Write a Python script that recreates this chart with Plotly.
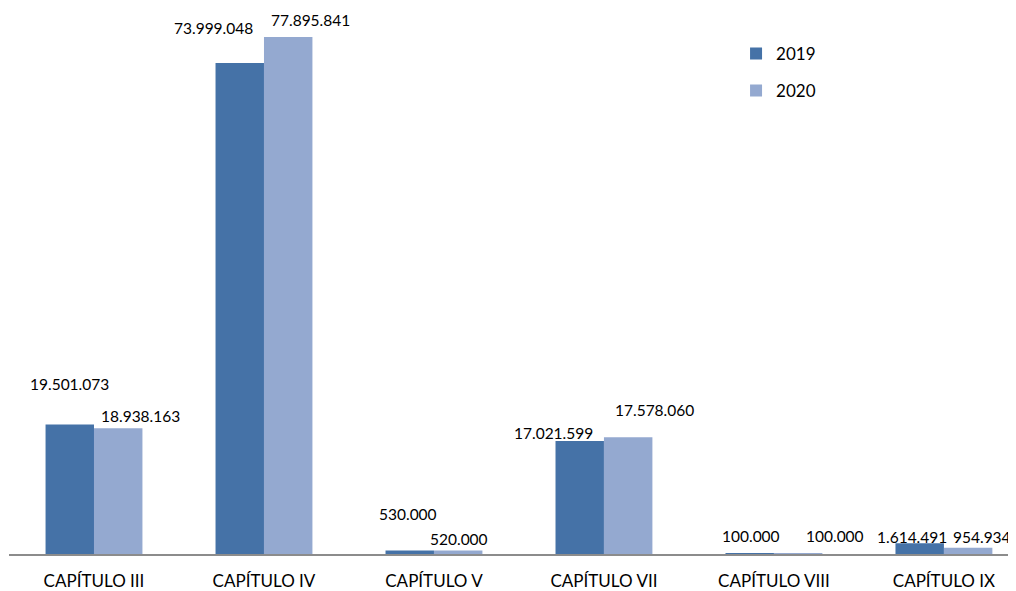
import plotly.graph_objects as go

categories = ["CAPÍTULO III", "CAPÍTULO IV", "CAPÍTULO V", "CAPÍTULO VII", "CAPÍTULO VIII", "CAPÍTULO IX"]
values_2019 = [19501073, 73999048, 530000, 17021599, 100000, 1614491]
values_2020 = [18938163, 77895841, 520000, 17578060, 100000, 954934]
labels_2019 = ["19.501.073", "73.999.048", "530.000", "17.021.599", "100.000", "1.614.491"]
labels_2020 = ["18.938.163", "77.895.841", "520.000", "17.578.060", "100.000", "954.934"]

# label placement styling (pixel offsets, as in the reference layout)
xoff_2019 = [0, -26, -2, -26, 1, -8]
yoff_2019 = [41, 35, 36, 8, 17, 6]
xoff_2020 = [22, 22, 1, 26, 37, 14]
yoff_2020 = [12, 17, 12, 27, 17, 11]

C2019 = "#4572A7"
C2020 = "#94A9D0"
FONT = "Lato"
HALF = 24.25

fig = go.Figure()
fig.add_trace(go.Bar(x=categories, y=values_2019, name="2019", marker_color=C2019,
                     marker_line_width=0, legendgroup="a"))
fig.add_trace(go.Bar(x=categories, y=values_2020, name="2020", marker_color=C2020,
                     marker_line_width=0, legendgroup="b"))

annotations = []
for i, c in enumerate(categories):
    annotations.append(dict(x=c, y=values_2019[i], text=labels_2019[i], showarrow=False,
                            xshift=-HALF + xoff_2019[i], yshift=yoff_2019[i],
                            yanchor="middle", xanchor="center",
                            font=dict(family=FONT, size=15.5, color="#000000")))
    annotations.append(dict(x=c, y=values_2020[i], text=labels_2020[i], showarrow=False,
                            xshift=HALF + xoff_2020[i], yshift=yoff_2020[i],
                            yanchor="middle", xanchor="center",
                            font=dict(family=FONT, size=15.5, color="#000000")))

fig.update_layout(
    width=1008, height=583,
    margin=dict(l=1, r=0, t=0, b=37),
    paper_bgcolor="white", plot_bgcolor="white",
    barmode="group", bargap=0.43, bargroupgap=0,
    font=dict(family=FONT, size=16, color="#000000"),
    showlegend=True,
    legend=dict(x=0.722, y=0.949, xanchor="left", yanchor="top",
                font=dict(family=FONT, size=17, color="#000000"),
                tracegroupgap=12, itemwidth=30, traceorder="grouped",
                bgcolor="rgba(0,0,0,0)"),
    annotations=annotations,
    xaxis=dict(range=[-0.5, 5.424], showline=True, linecolor="#8C8C8C", linewidth=2,
               ticks="", showgrid=False, zeroline=False,
               tickfont=dict(family=FONT, size=17, color="#000000"),
               ticklabelstandoff=11),
    yaxis=dict(range=[0, 82.27e6], visible=False, showgrid=False, zeroline=False),
)

fig.write_html("out.html")
